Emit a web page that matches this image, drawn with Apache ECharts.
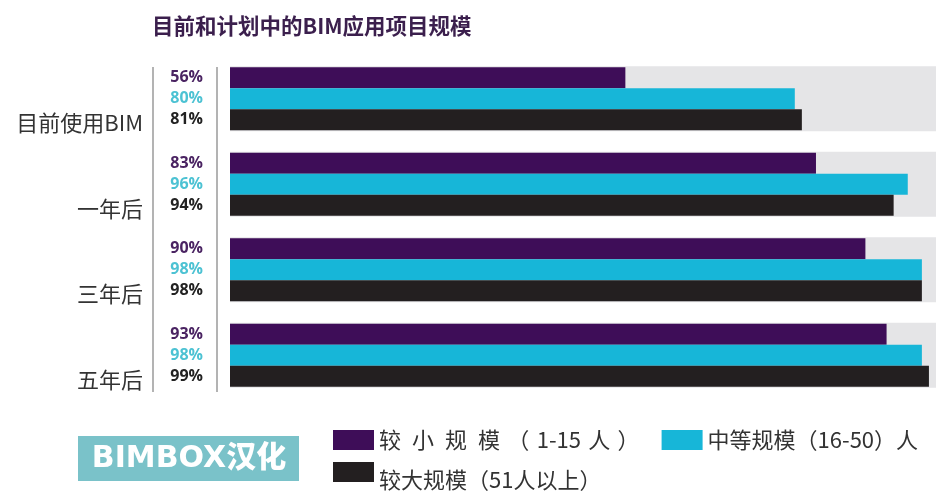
<!DOCTYPE html>
<html><head><meta charset="utf-8">
<script src="https://cdn.jsdelivr.net/npm/echarts@6/dist/echarts.min.js"></script>
<style>html,body{margin:0;padding:0;background:#fff}#c{width:939px;height:500px}</style>
</head><body><div id="c"></div>
<script>
const categories = ['目前使用BIM', '一年后', '三年后', '五年后'];
const seriesNames = ['较\u2002小\u2002规\u2002模\u2004（\u20041-15\u2004人\u2004）', '中等规模（16-50）人', '较大规模（51人以上）'];
const smallFirms = [56, 83, 90, 93];
const mediumFirms = [80, 96, 98, 98];
const largeFirms = [81, 94, 98, 99];
const fullScale = [100, 100, 100, 100];

const barColors = ['#3e0d58', '#17b6d8', '#231f20'];
const labelColors = ['#4a2362', '#4cc2d3', '#222222'];
const FONT = '"Noto Sans CJK SC", "Noto Sans", sans-serif';

const chart = echarts.init(document.getElementById('c'), null, {renderer: 'canvas'});
function mk(i, data) {
  return {
    name: seriesNames[i], type: 'bar', data: data, yAxisIndex: 0,
    barWidth: 21, barGap: '0%', z: 3,
    itemStyle: {color: barColors[i]},
    label: {show: true, position: [-27, '50%'], align: 'right', verticalAlign: 'middle',
      formatter: '{c}%', color: labelColors[i], fontSize: 16, fontWeight: 'bold',
      fontFamily: '"Open Sans", sans-serif'}
  };
}
chart.setOption({
  backgroundColor: '#ffffff',
  animation: false,
  title: {text: '目前和计划中的BIM应用项目规模', left: 147, top: 10,
    textStyle: {fontFamily: FONT, fontSize: 21.5, fontWeight: 'bold', color: '#3b1f4d'}},
  grid: {left: 230, right: 3, top: 56, bottom: 102, containLabel: false},
  xAxis: {type: 'value', min: 0, max: 100, show: false},
  yAxis: [
    {type: 'category', data: categories, inverse: true,
      axisLine: {show: false}, axisTick: {show: false}, splitLine: {show: false},
      axisLabel: {margin: 87, formatter: v => '{c|' + v + '}',
        rich: {c: {fontFamily: FONT, fontSize: 22, color: '#333', padding: [48, 0, 0, 0]}}}},
    {type: 'category', data: categories, inverse: true, show: false}
  ],
  legend: [
    {data: [seriesNames[0], seriesNames[1]], left: 328, top: 424, itemWidth: 41, itemHeight: 20,
      itemGap: 22, icon: 'rect', textStyle: {fontFamily: FONT, fontSize: 22, color: '#333'}},
    {data: [seriesNames[2]], left: 328, top: 457, itemWidth: 41, itemHeight: 20,
      icon: 'rect', formatter: n => '{p|' + n + '}',
      textStyle: {fontFamily: FONT, fontSize: 22, color: '#333',
        rich: {p: {fontFamily: FONT, fontSize: 22, color: '#333', padding: [16, 0, 0, 0]}}}}
  ],
  graphic: [
    {type: 'line', shape: {x1: 153, y1: 67, x2: 153, y2: 392}, style: {stroke: '#9a9a9a', lineWidth: 1.5}},
    {type: 'line', shape: {x1: 217, y1: 67, x2: 217, y2: 392}, style: {stroke: '#9a9a9a', lineWidth: 1.5}},
    {type: 'rect', shape: {x: 78, y: 436, width: 221, height: 45}, style: {fill: '#7ac2c9'}},
    {type: 'text', x: 189, y: 459, style: {text: 'BIMBOX汉化', fill: '#ffffff', fontSize: 30,
      fontWeight: 900, fontFamily: '"DejaVu Sans", "Noto Sans CJK SC", sans-serif', align: 'center', verticalAlign: 'middle'}}
  ],
  series: [
    {name: 'bg', type: 'bar', data: fullScale, yAxisIndex: 1, barWidth: 65, z: 1,
      itemStyle: {color: '#e5e5e7'}, silent: true, label: {show: false}},
    mk(0, smallFirms), mk(1, mediumFirms), mk(2, largeFirms)
  ]
});
</script></body></html>
